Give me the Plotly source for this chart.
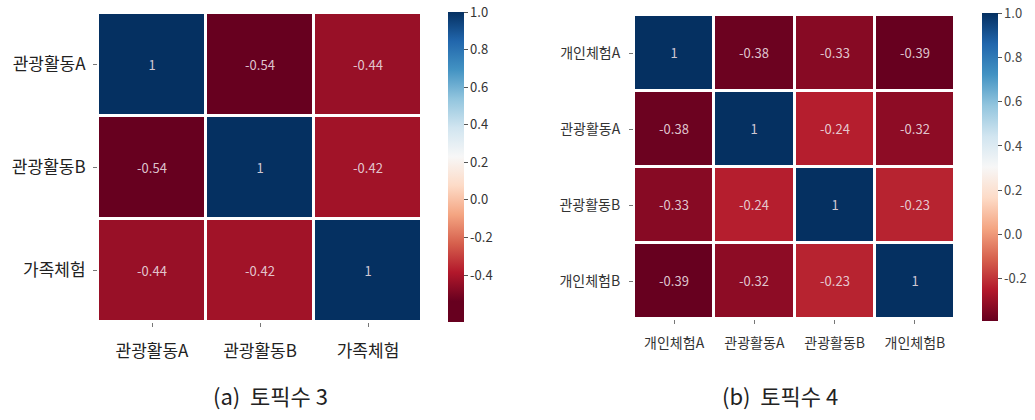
import plotly.graph_objects as go

# ---- data ----
labels_a = ["관광활동A", "관광활동B", "가족체험"]
corr_a = [
    [1, -0.54, -0.44],
    [-0.54, 1, -0.42],
    [-0.44, -0.42, 1],
]
labels_b = ["개인체험A", "관광활동A", "관광활동B", "개인체험B"]
corr_b = [
    [1, -0.38, -0.33, -0.39],
    [-0.38, 1, -0.24, -0.32],
    [-0.33, -0.24, 1, -0.23],
    [-0.39, -0.32, -0.23, 1],
]
cbar_ticks_a = [1.0, 0.8, 0.6, 0.4, 0.2, 0.0, -0.2, -0.4]
cbar_text_a = ["1.0", "0.8", "0.6", "0.4", "0.2", "0.0", "-0.2", "-0.4"]
cbar_ticks_b = [1.0, 0.8, 0.6, 0.4, 0.2, 0.0, -0.2]
cbar_text_b = ["1.0", "0.8", "0.6", "0.4", "0.2", "0.0", "-0.2"]
captions = ["(a)  토픽수 3", "(b)  토픽수 4"]

# ---- style ----
RDBU = ["#67001f", "#b2182b", "#d6604d", "#f4a582", "#fddbc7", "#f7f7f7",
        "#d1e5f0", "#92c5de", "#4393c3", "#2166ac", "#053061"]
FONT = "Noto Sans CJK KR"


def scale_for(data_min, bar_min, vmax=1.0):
    """RdBu spread over data range, drawn on a bar from bar_min to vmax."""
    span = vmax - bar_min
    off = (data_min - bar_min) / span
    sc = [[0.0, RDBU[0]]] if off > 0 else []
    n = len(RDBU) - 1
    for i, c in enumerate(RDBU):
        sc.append([off + (1 - off) * i / n, c])
    return sc


def fmt(v):
    return f"{v:g}"


min_a = min(min(r) for r in corr_a)
min_b = min(min(r) for r in corr_b)
bar_min_a = -0.65

fig = go.Figure()

fig.add_trace(go.Heatmap(
    z=corr_a, x=labels_a, y=labels_a,
    text=[[fmt(v) for v in r] for r in corr_a], texttemplate="%{text}",
    textfont=dict(family=FONT, size=13, color="rgba(236,222,225,0.9)"),
    colorscale=scale_for(min_a, bar_min_a), zmin=bar_min_a, zmax=1,
    xgap=3, ygap=3, xaxis="x", yaxis="y", hoverinfo="skip",
    colorbar=dict(x=448 / 1035, xanchor="left", xpad=0, ypad=0,
                  y=1 - 167 / 420, yanchor="middle", lenmode="pixels", len=310,
                  thickness=16, outlinewidth=0, ticks="outside", ticklen=4,
                  tickcolor="#555", tickvals=cbar_ticks_a, ticktext=cbar_text_a,
                  tickfont=dict(family=FONT, size=13, color="#333")),
))

fig.add_trace(go.Heatmap(
    z=corr_b, x=labels_b, y=labels_b,
    text=[[fmt(v) for v in r] for r in corr_b], texttemplate="%{text}",
    textfont=dict(family=FONT, size=13, color="rgba(236,222,225,0.9)"),
    colorscale=scale_for(min_b, min_b), zmin=min_b, zmax=1,
    xgap=3, ygap=3, xaxis="x2", yaxis="y2", hoverinfo="skip",
    colorbar=dict(x=982 / 1035, xanchor="left", xpad=0, ypad=0,
                  y=1 - 167 / 420, yanchor="middle", lenmode="pixels", len=308,
                  thickness=16, outlinewidth=0, ticks="outside", ticklen=4,
                  tickcolor="#555", tickvals=cbar_ticks_b, ticktext=cbar_text_b,
                  tickfont=dict(family=FONT, size=13, color="#444")),
))

ax_common = dict(showgrid=False, zeroline=False, showline=False, ticks="outside",
                 ticklen=4, tickcolor="#777", tickwidth=1)

fig.update_layout(
    width=1035, height=420, margin=dict(l=0, r=0, t=0, b=0),
    paper_bgcolor="white", plot_bgcolor="white", showlegend=False,
    xaxis=dict(domain=[98 / 1035, 422 / 1035], anchor="y",
               tickfont=dict(family=FONT, size=17, color="#222"),
               ticklabelstandoff=10, **ax_common),
    yaxis=dict(domain=[1 - 322 / 420, 1 - 13 / 420], anchor="x", autorange="reversed",
               tickfont=dict(family=FONT, size=17, color="#222"),
               ticklabelstandoff=4, **ax_common),
    xaxis2=dict(domain=[634 / 1035, 955 / 1035], anchor="y2",
                tickfont=dict(family=FONT, size=14, color="#333"),
                ticklabelstandoff=7, **ax_common),
    yaxis2=dict(domain=[1 - 319 / 420, 1 - 15 / 420], anchor="x2", autorange="reversed",
                tickfont=dict(family=FONT, size=14, color="#333"),
                ticklabelstandoff=6, **ax_common),
    annotations=[
        dict(text=captions[0], x=270 / 1035, y=1 - 395 / 420, xref="paper", yref="paper",
             showarrow=False, xanchor="center", yanchor="middle",
             font=dict(family=FONT, size=22, color="#222")),
        dict(text=captions[1], x=780 / 1035, y=1 - 395 / 420, xref="paper", yref="paper",
             showarrow=False, xanchor="center", yanchor="middle",
             font=dict(family=FONT, size=22, color="#222")),
    ],
)

fig.write_html("out.html")
